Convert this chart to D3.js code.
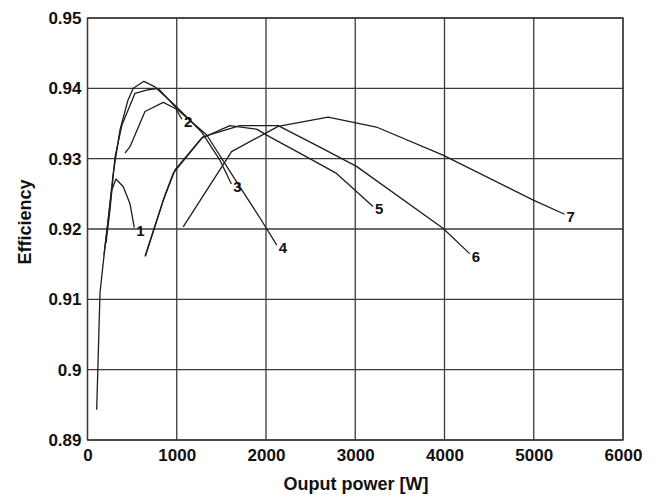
<!DOCTYPE html>
<html>
<head>
<meta charset="utf-8">
<script src="https://cdn.jsdelivr.net/npm/d3@7"></script>
<style>
  body { margin: 0; background: #fff; }
  svg { display: block; font-family: "Liberation Sans", Arial, Helvetica, sans-serif; }
</style>
</head>
<body>
<svg id="chart" width="659" height="498"></svg>
<script>
// ---- data ----
const xTicks = [0, 1000, 2000, 3000, 4000, 5000, 6000];
const yTicks = [0.89, 0.90, 0.91, 0.92, 0.93, 0.94, 0.95];
const yTickLabels = ["0.89", "0.9", "0.91", "0.92", "0.93", "0.94", "0.95"];
const xTitle = "Ouput power [W]";
const yTitle = "Efficiency";

const curve1 = [[103,0.8943],[140,0.9109],[196,0.9175],[271,0.9255],[319,0.9271],[401,0.9260],[476,0.9236],[524,0.9202]];
const curve2 = [[420,0.9308],[476,0.9317],[644,0.9367],[849,0.9380],[990,0.9371],[1058,0.9356]];
const curve3 = [[185,0.9163],[229,0.9210],[286,0.9277],[364,0.9341],[453,0.9383],[513,0.9400],[632,0.9410],[756,0.9402],[980,0.9376],[1278,0.9338],[1483,0.9298],[1612,0.9264]];
const curve4 = [[207,0.9180],[252,0.9227],[308,0.9302],[386,0.9348],[532,0.9393],[681,0.9398],[793,0.9400],[1016,0.9369],[1334,0.9334],[1707,0.9260],[1931,0.9216],[2121,0.9177]];
const curve5 = [[644,0.9161],[849,0.9241],[980,0.9284],[1278,0.9329],[1595,0.9347],[1894,0.9342],[2043,0.9331],[2491,0.9300],[2790,0.9279],[3199,0.9232]];
const curve6 = [[650,0.9162],[868,0.9248],[960,0.9279],[1293,0.9331],[1707,0.9347],[2136,0.9347],[2566,0.9319],[3014,0.9289],[3983,0.9201],[4282,0.9165]];
const curve7 = [[1072,0.9203],[1614,0.9310],[2136,0.9346],[2696,0.9359],[3237,0.9345],[3983,0.9305],[4995,0.9241],[5345,0.9221]];
const curveNames = ["1","2","3","4","5","6","7"];
const curves = [curve1, curve2, curve3, curve4, curve5, curve6, curve7];

// ---- layout ----
const svg = d3.select("#chart");
const mL = 87.5, mR = 623, mT = 18, mB = 440;
const x = d3.scaleLinear().domain([0, 6000]).range([mL, mR]);
const y = d3.scaleLinear().domain([0.89, 0.95]).range([mB, mT]);
const gridColor = "#3a3a3a";
const fontFam = "'Liberation Sans', Arial, Helvetica, sans-serif";

// grid
svg.append("g").selectAll("line").data(xTicks).join("line")
  .attr("x1", d => x(d)).attr("x2", d => x(d))
  .attr("y1", mT).attr("y2", mB)
  .attr("stroke", gridColor).attr("stroke-width", 1.3);
svg.append("g").selectAll("line").data(yTicks).join("line")
  .attr("x1", mL).attr("x2", mR)
  .attr("y1", d => y(d)).attr("y2", d => y(d))
  .attr("stroke", gridColor).attr("stroke-width", 1.3);

// axes (labels only)
const xAxis = d3.axisBottom(x).tickValues(xTicks).tickSize(0).tickPadding(9).tickFormat(d3.format("d"));
const gx = svg.append("g").attr("transform", `translate(0,${mB})`).call(xAxis);
gx.select(".domain").remove();
gx.selectAll("text").attr("font-size", 17).attr("font-weight", "bold").attr("fill", "#111")
  .attr("font-family", fontFam);

const yAxis = d3.axisLeft(y).tickValues(yTicks).tickSize(0).tickPadding(6)
  .tickFormat((d, i) => yTickLabels[i]);
const gy = svg.append("g").attr("transform", `translate(${mL},0)`).call(yAxis);
gy.select(".domain").remove();
gy.selectAll("text").attr("font-size", 17).attr("font-weight", "bold").attr("fill", "#111")
  .attr("font-family", fontFam);

// frame
svg.append("rect").attr("x", mL).attr("y", mT).attr("width", mR - mL).attr("height", mB - mT)
  .attr("fill", "none").attr("stroke", gridColor).attr("stroke-width", 1.3);

// curves
const line = d3.line().x(d => x(d[0])).y(d => y(d[1]));
svg.append("g").selectAll("path").data(curves).join("path")
  .attr("d", line).attr("fill", "none").attr("stroke", "#1e1e1e").attr("stroke-width", 1.3)
  .attr("stroke-linejoin", "round");

// curve labels
svg.append("g").selectAll("text").data(curves).join("text")
  .attr("x", d => x(d[d.length - 1][0]) + 2)
  .attr("y", d => y(d[d.length - 1][1]) + 8)
  .attr("font-size", 15).attr("font-weight", "bold").attr("fill", "#111")
  .attr("font-family", fontFam)
  .text((d, i) => curveNames[i]);

// titles
svg.append("text").attr("x", 356).attr("y", 490)
  .attr("text-anchor", "middle").attr("font-size", 18).attr("font-weight", "bold").attr("fill", "#111")
  .attr("font-family", fontFam)
  .text(xTitle);
svg.append("text").attr("transform", `translate(31,222) rotate(-90)`)
  .attr("text-anchor", "middle").attr("font-size", 18).attr("font-weight", "bold").attr("fill", "#111")
  .attr("font-family", fontFam)
  .text(yTitle);
</script>
</body>
</html>
